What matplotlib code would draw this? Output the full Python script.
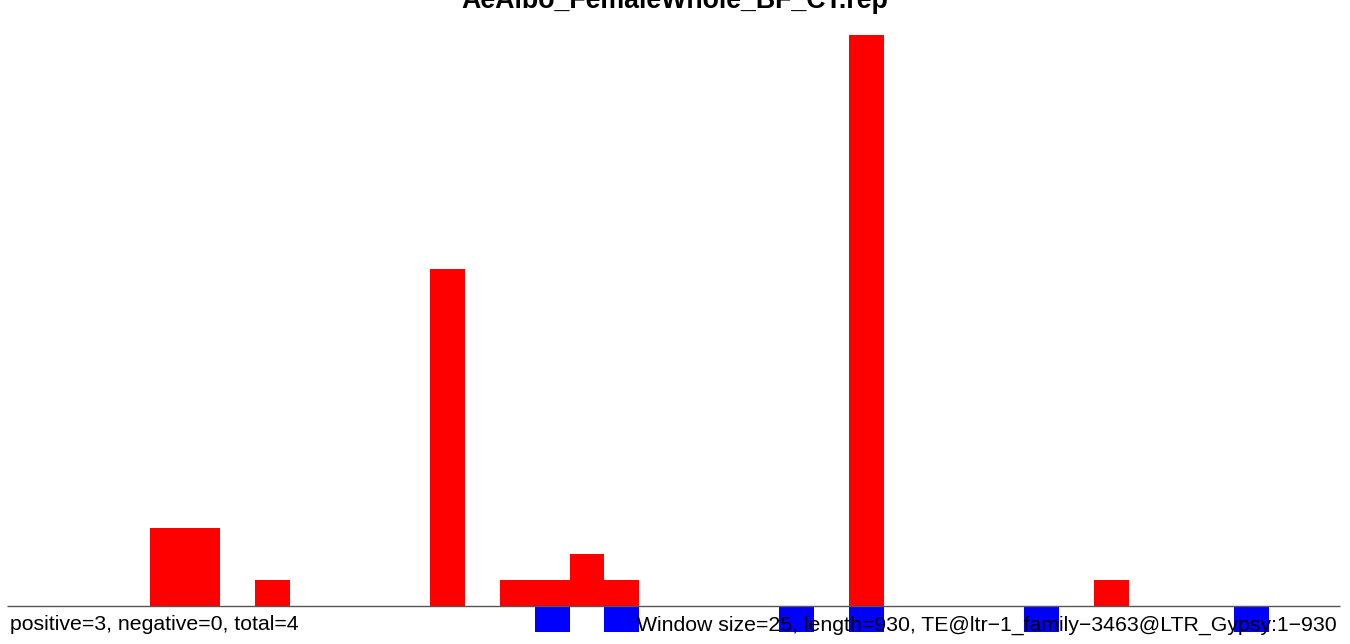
import matplotlib
matplotlib.use("Agg")
import matplotlib.pyplot as plt
import numpy as np

# window counts (window size 25, length 930 -> 38 windows)
title = "AeAlbo_FemaleWhole_BF_CT.rep"
n_windows = 38
red_windows = [4, 5, 7, 12, 14, 15, 16, 17, 24, 31]
red_counts = [3, 3, 1, 13, 1, 1, 2, 1, 22, 1]
blue_windows = [15, 17, 22, 24, 29, 35]
blue_counts = [-1, -1, -1, -1, -1, -1]
left_label = "positive=3, negative=0, total=4"
right_label = "Window size=25, length=930, TE@ltr\u22121_family\u22123463@LTR_Gypsy:1\u2212930"

W, H = 1350, 644
fig = plt.figure(figsize=(W / 100, H / 100), dpi=100)
ax = fig.add_axes([0, 0, 1, 1])
plt.rcParams['font.family'] = ['Liberation Sans', 'DejaVu Sans']

px_per_win = 34.97
px_per_unit = 25.95
x0_px, base_px = 10, 606

ax.bar(red_windows, red_counts, width=1, align='edge', color='#ff0000', linewidth=0)
ax.bar(blue_windows, blue_counts, width=1, align='edge', color='#0000ff', linewidth=0)
ax.hlines(0, -3 / px_per_win, n_windows + 1 / px_per_win, color='#555555', linewidth=1)

ax.set_xlim(-x0_px / px_per_win, (W - x0_px) / px_per_win)
ax.set_ylim((base_px - H) / px_per_unit, base_px / px_per_unit)
ax.axis('off')

fig.text(10 / W, 1 - 625 / H, left_label, ha='left', va='center', fontsize=15.3,
         family=['Liberation Sans', 'DejaVu Sans'])
fig.text(1337 / W, 1 - 625 / H, right_label, ha='right', va='center', fontsize=15.3,
         family=['Liberation Sans', 'DejaVu Sans'])
fig.text(675 / W, 1 - 8 / H, title, ha='center', va='baseline', fontsize=19.3,
         fontweight='bold', family=['Liberation Sans', 'DejaVu Sans'])

fig.savefig("out.png", dpi=100)
